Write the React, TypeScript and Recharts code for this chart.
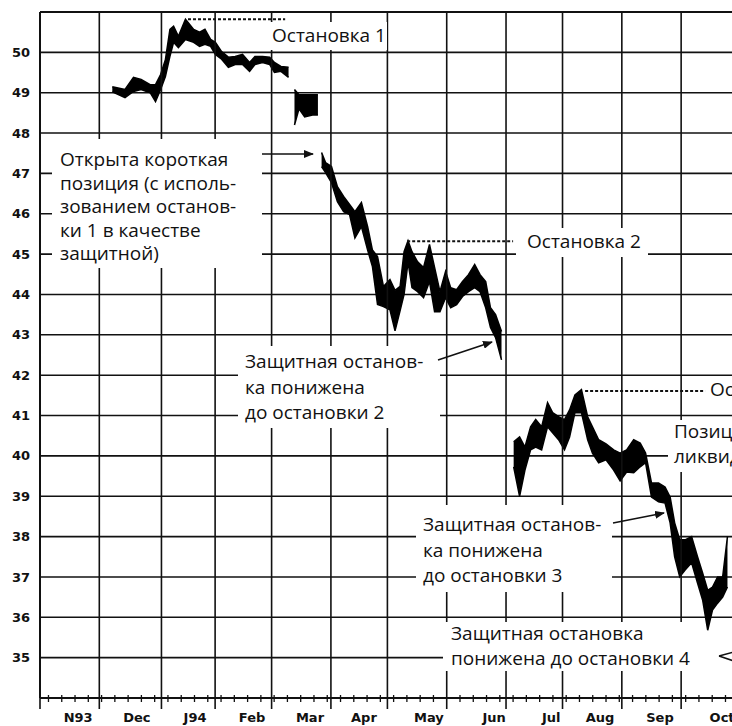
import React from 'react';
import { ComposedChart, Area, XAxis, YAxis, CartesianGrid, ReferenceLine } from 'recharts';

// price scale
const priceTicks = [35, 36, 37, 38, 39, 40, 41, 42, 43, 44, 45, 46, 47, 48, 49, 50];

// trading-day index where each month starts (Nov 93 = 0)
const monthStarts = [0, 21, 43, 62, 82, 103, 123, 144, 165, 185, 206, 227, 247];
const monthLabels = ['N93', 'Dec', 'J94', 'Feb', 'Mar', 'Apr', 'May', 'Jun', 'Jul', 'Aug', 'Sep', 'Oct'];
const monthLabelDays = [13.5, 34.3, 54.9, 75.1, 95.6, 114.7, 137.7, 160.8, 181, 198.3, 219.5, 241.5];

// weekly minor ticks on the time axis
const weekTicks = Array.from({ length: 55 }, (_, i) => Math.round((3 + i * 4.7) * 10) / 10)
  .filter(w => !monthStarts.includes(w));

// price bars: day, high, low (null = gap between bars)
const days = [
  25.6, 30.1, 33.1, 35.8, 39.0, 40.9, 42.7, 44.4, 46.0, 47.3, 49.0, 51.5, 54.4, 56.5, 58.4, 60.4,
  62.1, 64.3, 66.7, 69.1, 71.7, 74.2, 76.1, 78.8, 81.3, 83.0, 85.3, 88.0,
  89.0,
  90.1, 91.7, 93.7, 96.5, 98.4,
  99.0,
  99.7, 101.1, 103.2, 105.3, 107.5, 109.6, 111.5, 113.8, 116.0, 117.7, 119.5, 121.6, 123.9, 125.7,
  127.5, 128.9, 130.3, 131.7, 133.7, 135.8, 137.9, 139.7, 141.6, 143.6, 145.4, 147.5, 149.6, 151.7,
  153.9, 155.8, 157.8, 159.5, 161.3, 163.4,
  165.0,
  167.7, 169.8, 171.7, 173.7, 175.5, 177.6, 179.7, 181.5, 183.6, 185.7, 187.5, 189.4, 191.7, 193.9,
  195.6, 197.8, 200.4, 203.1, 205.4, 207.7, 210.2, 212.5, 214.4, 216.5, 219.0, 221.3, 223.1, 224.7,
  226.5, 228.4, 230.7, 232.8, 234.6, 236.4, 238.1, 239.9, 241.7, 243.4,
];
const highs = [
  49.15, 49.08, 49.38, 49.33, 49.2, 49.2, 49.45, 49.82, 50.57, 50.65, 50.4, 50.82, 50.57, 50.5, 50.57, 50.32,
  50.25, 50.02, 49.88, 49.9, 49.95, 49.75, 49.9, 49.9, 49.88, 49.75, 49.65, 49.63,
  null,
  49.08, 48.95, 48.95, 48.95, 48.95,
  null,
  47.52, 47.27, 47.17, 46.67, 46.43, 46.23, 46.05, 46.28, 45.68, 45.1, 44.94, 44.2, 44.37, 44.1,
  44.2, 45.06, 45.33, 45.06, 44.81, 44.67, 45.24, 44.67, 44.07, 44.57, 44.17, 44.12, 44.32, 44.49,
  44.74, 44.49, 44.32, 43.67, 43.5, 43.08,
  null,
  40.35, 40.47, 40.22, 40.72, 40.9, 40.72, 41.32, 41.07, 40.97, 40.9, 41.14, 41.51, 41.64, 40.97,
  40.72, 40.4, 40.3, 40.15, 40.07, 40.15, 40.4, 40.32, 40.07, 39.33, 39.33, 39.23, 38.98, 38.34,
  37.92, 37.92, 38.0, 37.5, 37.1, 36.67, 36.75, 37.0, 37.0, 38.0,
];
const lows = [
  49.02, 48.88, 49.03, 49.08, 49.0, 48.78, 49.08, 49.4, 49.9, 50.25, 50.12, 50.32, 50.25, 50.15, 50.2, 50.15,
  49.95, 49.83, 49.63, 49.7, 49.7, 49.53, 49.7, 49.75, 49.7, 49.5, 49.53, 49.38,
  null,
  48.2, 48.6, 48.4, 48.45, 48.45,
  null,
  47.17, 47.02, 46.77, 46.3, 46.05, 45.98, 45.4, 45.68, 45.1, 44.69, 43.75, 43.7, 43.62, 43.1,
  43.6, 44.0, 44.8, 44.17, 44.07, 43.92, 44.32, 43.57, 43.57, 43.92, 43.67, 43.75, 43.95, 44.07,
  44.17, 44.07, 43.67, 43.18, 42.93, 42.38,
  null,
  39.73, 39.0, 39.65, 40.15, 40.22, 40.15, 40.72, 40.57, 40.4, 40.15, 40.47, 41.07, 41.07, 40.4,
  40.07, 39.83, 39.9, 39.65, 39.38, 39.6, 39.58, 39.73, 39.83, 38.98, 38.86, 38.83, 38.34, 37.5,
  37.0, 37.17, 37.35, 36.85, 36.43, 35.68, 36.18, 36.35, 36.5, 36.75,
];

// protective stops: level, first day, last day
const stopLevels = [50.82, 45.32, 41.61];
const stopFrom = [52.4, 130, 193];
const stopTo = [86.8, 167.5, 235.5];

const data = days.map((d, i) => ({
  day: d,
  range: highs[i] == null ? null : [lows[i], highs[i]],
}));

const allTicks = [...monthStarts, ...weekTicks, ...monthLabelDays].sort((a, b) => a - b);

const INK = '#111';
const AXIS_FONT = '"DejaVu Sans", sans-serif';
const NOTE_FONT = '"Open Sans", "Noto Sans", sans-serif';

const AxisTick = (props: any) => {
  const { x, y, payload } = props;
  const v = payload.value;
  const li = monthLabelDays.indexOf(v);
  if (li >= 0) {
    return (
      <text x={x} y={y + 24} textAnchor="middle" fill={INK} fontSize={13} fontWeight={700} fontFamily={AXIS_FONT}>
        {monthLabels[li]}
      </text>
    );
  }
  if (monthStarts.includes(v)) {
    return <line x1={x} x2={x} y1={y} y2={y + 11} stroke={INK} strokeWidth={1.6} />;
  }
  return <line x1={x} x2={x} y1={y - 3} y2={y + 4} stroke={INK} strokeWidth={1.3} />;
};

// multi-line annotation
const Note = ({ x, y, lh, lines }: { x: number; y: number; lh: number; lines: string[] }) => (
  <text x={x} y={y}>
    {lines.map((t, i) => (
      <tspan key={i} x={x} dy={i === 0 ? 0 : lh}>{t}</tspan>
    ))}
  </text>
);

const Notes = () => (
  <svg width={732} height={726} style={{ position: 'absolute', left: 0, top: 0, pointerEvents: 'none' }}>
    <defs>
      <marker id="ah" markerWidth={10} markerHeight={8} refX={9} refY={4} orient="auto" markerUnits="userSpaceOnUse">
        <path d="M0,0 L10,4 L0,8 z" fill={INK} />
      </marker>
    </defs>
    <g fill="#fff">
      <rect x={268} y={22} width={119} height={28} />
      <rect x={52} y={139} width={210} height={129} />
      <rect x={238} y={346} width={202} height={82} />
      <rect x={516} y={228} width={132} height={29} />
      <rect x={416} y={505} width={196} height={87} />
      <rect x={706} y={378} width={40} height={25} />
      <rect x={668} y={420} width={80} height={52} />
      <rect x={443} y={622} width={257} height={49} />
      <rect x={700} y={632} width={40} height={39} />
    </g>
    <g fontFamily={NOTE_FONT} fontSize={19} fill={INK}>
      <text x={272} y={42}>Остановка 1</text>
      <Note x={60} y={166} lh={23.5} lines={['Открыта короткая', 'позиция (с исполь-', 'зованием останов-', 'ки 1 в качестве', 'защитной)']} />
      <text x={527} y={248}>Остановка 2</text>
      <Note x={245} y={368} lh={25.5} lines={['Защитная останов-', 'ка понижена', 'до остановки 2']} />
      <text x={710} y={396}>Остановка 3</text>
      <Note x={674} y={438} lh={25} lines={['Позиция', 'ликвидирована']} />
      <Note x={423} y={531} lh={25.5} lines={['Защитная останов-', 'ка понижена', 'до остановки 3']} />
      <Note x={451} y={640} lh={25} lines={['Защитная остановка', 'понижена до остановки 4']} />
    </g>
    <g stroke={INK} strokeWidth={1.6} fill="none">
      <line x1={262} y1={154} x2={313} y2={154} markerEnd="url(#ah)" />
      <line x1={438} y1={360} x2={492} y2={342} markerEnd="url(#ah)" />
      <line x1={613} y1={523} x2={664} y2={513} markerEnd="url(#ah)" />
      <line x1={719} y1={656} x2={734} y2={652} />
      <line x1={719} y1={656} x2={734} y2={661} />
    </g>
  </svg>
);

export default function App() {
  return (
    <div style={{ position: 'absolute', left: 0, top: 0, width: 732, height: 726, overflow: 'hidden', background: '#fff' }}>
      <ComposedChart width={790} height={726} data={data} margin={{ top: 12, right: 10, bottom: 0, left: 0 }}>
        <CartesianGrid vertical={false} stroke={INK} strokeWidth={1.6} />
        <XAxis
          type="number"
          dataKey="day"
          domain={[0, 262]}
          ticks={allTicks}
          interval={0}
          height={28}
          allowDataOverflow
          axisLine={{ stroke: INK, strokeWidth: 2 }}
          tickLine={false}
          tickSize={0}
          tickMargin={0}
          tick={AxisTick}
        />
        <YAxis
          type="number"
          domain={[34, 51]}
          ticks={priceTicks}
          interval={0}
          width={40}
          allowDataOverflow
          axisLine={{ stroke: INK, strokeWidth: 2 }}
          tickLine={false}
          tickSize={0}
          tickMargin={10}
          tick={{ fill: INK, fontSize: 13, fontWeight: 700, fontFamily: AXIS_FONT }}
        />
        <ReferenceLine y={51} stroke={INK} strokeWidth={2} />
        {monthStarts.slice(1).map(m => (
          <ReferenceLine key={`m-${m}`} x={m} stroke={INK} strokeWidth={1.6} />
        ))}
        <Area
          type="linear"
          dataKey="range"
          stroke="#000"
          strokeWidth={1.5}
          fill="#000"
          fillOpacity={1}
          dot={false}
          activeDot={false}
          connectNulls={false}
          isAnimationActive={false}
        />
        {stopLevels.map((lv, i) => (
          <ReferenceLine
            key={`s-${i}`}
            segment={[{ x: stopFrom[i], y: lv }, { x: stopTo[i], y: lv }]}
            stroke={INK}
            strokeWidth={2}
            strokeDasharray="3 2"
          />
        ))}
      </ComposedChart>
      <Notes />
    </div>
  );
}
